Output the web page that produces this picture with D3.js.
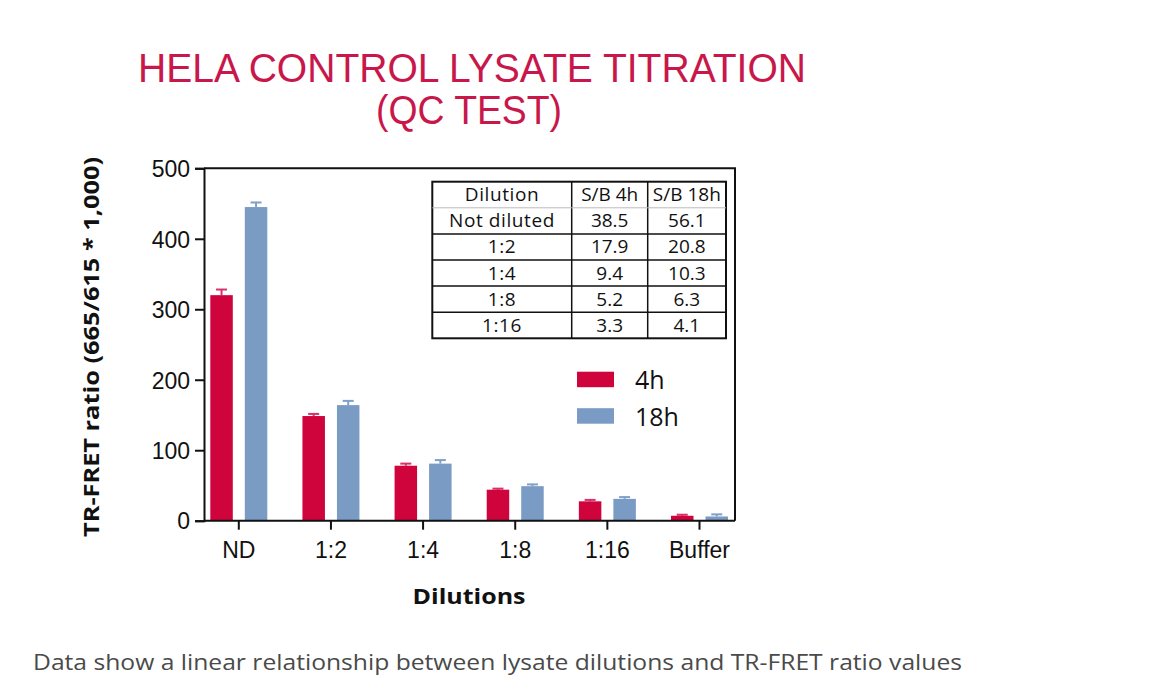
<!DOCTYPE html>
<html>
<head>
<meta charset="utf-8">
<script src="https://cdn.jsdelivr.net/npm/d3@7"></script>
<style>
  html, body { margin: 0; padding: 0; background: #fff; }
  svg { display: block; }
</style>
</head>
<body>
<svg id="chart" width="1152" height="694"></svg>
<script>
// ---- data ----
const categories = ["ND", "1:2", "1:4", "1:8", "1:16", "Buffer"];
const seriesNames = ["4h", "18h"];
const values4h = [320, 148.5, 78, 44, 27.5, 7];
const err4h = [8, 3, 3, 1.5, 2, 1.5];
const values18h = [445, 164, 81, 49, 31, 6];
const err18h = [6.5, 6, 5, 2.5, 2.5, 3];
const yTicks = [0, 100, 200, 300, 400, 500];

const tableHeader = ["Dilution", "S/B 4h", "S/B 18h"];
const tableDilution = ["Not diluted", "1:2", "1:4", "1:8", "1:16"];
const tableSB4h = ["38.5", "17.9", "9.4", "5.2", "3.3"];
const tableSB18h = ["56.1", "20.8", "10.3", "6.3", "4.1"];

const titleLines = ["HELA CONTROL LYSATE TITRATION", "(QC TEST)"];
const yLabel = "TR-FRET ratio (665/615 * 1,000)";
const xLabel = "Dilutions";
const caption = "Data show a linear relationship between lysate dilutions and TR-FRET ratio values";

// ---- styles ----
const colors = { "4h": "#d0043c", "18h": "#7a9bc4" };
const errColors = { "4h": "#d8306a", "18h": "#7fa0c8" };
const titleColor = "#c8174a";

const svg = d3.select("#chart");

const plot = { left: 204, right: 735, top: 168.3, bottom: 520.7 };

const y = d3.scaleLinear().domain([0, 500]).range([plot.bottom, plot.top]);
const x = d3.scalePoint().domain(categories).range([238.3, 699]);
const xSub = d3.scaleBand().domain(seriesNames).range([-28, 29]).paddingInner(0.348);

// ---- title ----
svg.append("text")
  .attr("x", 472).attr("y", 82)
  .attr("text-anchor", "middle")
  .attr("font-family", "Liberation Sans, Arial, sans-serif")
  .attr("font-size", 41)
  .attr("fill", titleColor)
  .attr("textLength", 668).attr("lengthAdjust", "spacingAndGlyphs")
  .text(titleLines[0]);
svg.append("text")
  .attr("x", 469).attr("y", 124)
  .attr("text-anchor", "middle")
  .attr("font-family", "Liberation Sans, Arial, sans-serif")
  .attr("font-size", 41)
  .attr("fill", titleColor)
  .attr("textLength", 186).attr("lengthAdjust", "spacingAndGlyphs")
  .text(titleLines[1]);

// ---- bars ----
const data = categories.map((c, i) => ({
  cat: c,
  series: [
    { name: "4h", v: values4h[i], e: err4h[i] },
    { name: "18h", v: values18h[i], e: err18h[i] }
  ]
}));

const groups = svg.append("g").selectAll("g")
  .data(data).join("g")
  .attr("transform", d => `translate(${x(d.cat)},0)`);

groups.selectAll("line.err")
  .data(d => d.series).join("line")
  .attr("class", "err")
  .attr("x1", s => xSub(s.name) + xSub.bandwidth() / 2)
  .attr("x2", s => xSub(s.name) + xSub.bandwidth() / 2)
  .attr("y1", s => y(s.v))
  .attr("y2", s => y(s.v + s.e))
  .attr("stroke", s => errColors[s.name])
  .attr("stroke-width", 2);

groups.selectAll("line.cap")
  .data(d => d.series).join("line")
  .attr("class", "cap")
  .attr("x1", s => xSub(s.name) + xSub.bandwidth() / 2 - 5.5)
  .attr("x2", s => xSub(s.name) + xSub.bandwidth() / 2 + 5.5)
  .attr("y1", s => y(s.v + s.e))
  .attr("y2", s => y(s.v + s.e))
  .attr("stroke", s => errColors[s.name])
  .attr("stroke-width", 2);

groups.selectAll("rect")
  .data(d => d.series).join("rect")
  .attr("x", s => xSub(s.name))
  .attr("width", xSub.bandwidth())
  .attr("y", s => y(s.v))
  .attr("height", s => y(0) - y(s.v))
  .attr("fill", s => colors[s.name]);

// ---- frame (top & right) ----
svg.append("path")
  .attr("d", `M${plot.left},${plot.top}H${plot.right}V${plot.bottom}`)
  .attr("fill", "none").attr("stroke", "#111").attr("stroke-width", 2);

// ---- axes ----
const yAxis = svg.append("g")
  .attr("transform", `translate(${plot.left},0)`)
  .call(d3.axisLeft(y).tickValues(yTicks).tickSize(9).tickPadding(5));
yAxis.select(".domain").attr("stroke", "#111").attr("stroke-width", 2);
yAxis.selectAll(".tick line").attr("stroke", "#111").attr("stroke-width", 2);
yAxis.selectAll(".tick text")
  .attr("font-family", "Liberation Sans, Arial, sans-serif")
  .attr("font-size", 23).attr("fill", "#111").attr("dy", "0.36em");

const xAxis = svg.append("g")
  .attr("transform", `translate(0,${plot.bottom})`)
  .call(d3.axisBottom(x).tickSize(9).tickPadding(8).tickSizeOuter(0));
xAxis.select(".domain")
  .attr("d", `M${plot.left},0H${plot.right}`)
  .attr("stroke", "#111").attr("stroke-width", 2);
xAxis.selectAll(".tick line").attr("stroke", "#111").attr("stroke-width", 2);
xAxis.selectAll(".tick text")
  .attr("font-family", "Liberation Sans, Arial, sans-serif")
  .attr("font-size", 23).attr("fill", "#111").attr("dy", "0.9em");

// ---- axis labels ----
svg.append("text")
  .attr("transform", "translate(99,347) rotate(-90)")
  .attr("text-anchor", "middle")
  .attr("font-family", "Open Sans, Noto Sans, sans-serif")
  .attr("font-weight", 700)
  .attr("font-size", 21)
  .attr("fill", "#111")
  .attr("textLength", 380).attr("lengthAdjust", "spacingAndGlyphs")
  .text(yLabel);

svg.append("text")
  .attr("x", 469).attr("y", 604)
  .attr("text-anchor", "middle")
  .attr("font-family", "Open Sans, Noto Sans, sans-serif")
  .attr("font-weight", 700)
  .attr("font-size", 22)
  .attr("fill", "#111")
  .attr("textLength", 113).attr("lengthAdjust", "spacingAndGlyphs")
  .text(xLabel);

// ---- legend ----
const legend = svg.append("g");
seriesNames.forEach((n, i) => {
  const ly = 371.7 + i * 36.5;
  legend.append("rect")
    .attr("x", 577).attr("y", ly).attr("width", 37).attr("height", 15.5)
    .attr("fill", colors[n]);
  legend.append("text")
    .attr("x", 635).attr("y", ly + 17.5)
    .attr("font-family", "Open Sans, Noto Sans, sans-serif")
    .attr("font-size", 25).attr("fill", "#111")
    .text(n);
});

// ---- table ----
const colX = [432.3, 571.7, 647.7, 726];
const tTop = 181.7, rowH = 26.1;
const rows = [tableHeader].concat(tableDilution.map((d, i) => [d, tableSB4h[i], tableSB18h[i]]));
const tbl = svg.append("g");
tbl.append("rect")
  .attr("x", colX[0]).attr("y", tTop)
  .attr("width", colX[3] - colX[0]).attr("height", rowH * rows.length)
  .attr("fill", "#fff").attr("stroke", "#111").attr("stroke-width", 2);
[1, 2].forEach(k => {
  tbl.append("line")
    .attr("x1", colX[k]).attr("x2", colX[k])
    .attr("y1", tTop).attr("y2", tTop + rowH * rows.length)
    .attr("stroke", "#111").attr("stroke-width", 1.5);
});
for (let r = 1; r < rows.length; r++) {
  tbl.append("line")
    .attr("x1", colX[0]).attr("x2", colX[3])
    .attr("y1", tTop + r * rowH).attr("y2", tTop + r * rowH)
    .attr("stroke", r === 1 ? "#bbb" : "#111")
    .attr("stroke-width", r === 1 ? 1 : 1.5);
}
rows.forEach((row, r) => {
  row.forEach((cell, c) => {
    tbl.append("text")
      .attr("x", (colX[c] + colX[c + 1]) / 2)
      .attr("y", tTop + r * rowH + rowH / 2 + 6.5)
      .attr("text-anchor", "middle")
      .attr("font-family", "Open Sans, Noto Sans, sans-serif")
      .attr("font-size", 19)
      .attr("fill", "#111")
      .attr("letter-spacing", c === 0 ? 0.6 : 0)
      .text(cell);
  });
});

// ---- caption ----
svg.append("text")
  .attr("x", 33).attr("y", 670)
  .attr("font-family", "Open Sans, Noto Sans, sans-serif")
  .attr("font-size", 21)
  .attr("fill", "#4a4a4a")
  .attr("textLength", 929).attr("lengthAdjust", "spacingAndGlyphs")
  .text(caption);
</script>
</body>
</html>
